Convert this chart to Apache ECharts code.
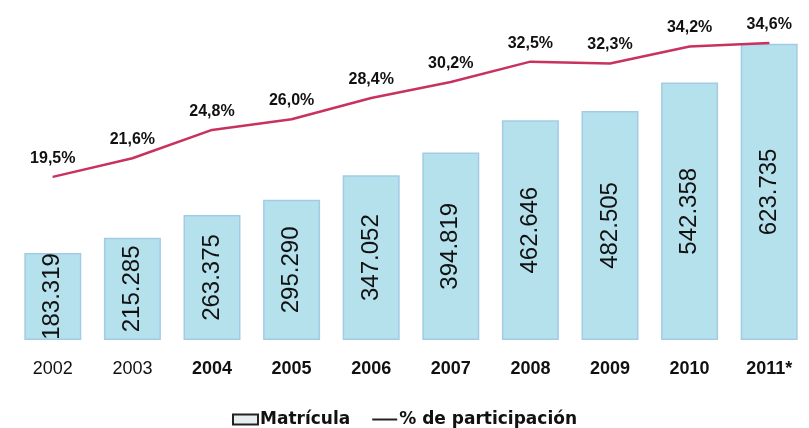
<!DOCTYPE html>
<html>
    <head>
        <meta charset="utf-8">
        <title>Matrícula</title>
        <style>
            body{
                margin:0;
                background-color:#FFFFFF;
            }
            #main{
                width:809px;
                height:428px;
            }
        </style>
    </head>
    <body>
        <div id="main"></div>

        <script src="https://cdn.jsdelivr.net/npm/echarts@6/dist/echarts.min.js"></script>

        <script>
            var years = ["2002","2003","2004","2005","2006","2007","2008","2009","2010","2011*"];
            var boldYears = [false,false,true,true,true,true,true,true,true,true];
            var matricula = [183319,215285,263375,295290,347052,394819,462646,482505,542358,623735];
            var participacion = [19.5,21.6,24.8,26.0,28.4,30.2,32.5,32.3,34.2,34.6];

            function miles(v){
                return String(v).replace(/\B(?=(\d{3})+(?!\d))/g, ".");
            }

            var myChart = echarts.init(document.getElementById('main'));

            var option = {
                animation: false,
                textStyle: { fontFamily: '"Liberation Sans", Arial, sans-serif' },
                legend: {
                    bottom: 0,
                    padding: 0,
                    left: 'center',
                    itemGap: 22,
                    itemWidth: 25,
                    itemHeight: 10,
                    textStyle: { fontSize: 17, fontWeight: 'bold', color: '#111',
                                 fontFamily: '"DejaVu Sans", sans-serif', padding: [0,0,0,-3] },
                    data: [
                        { name: 'Matrícula', icon: 'rect',
                          itemStyle: { color: '#e8eef0', borderColor: '#222', borderWidth: 2 } },
                        { name: '% de participación', icon: 'path://M0,4 L25,4 L25,6 L0,6 Z',
                          itemStyle: { color: '#222' } }
                    ]
                },
                grid: { left: 13, top: 20, width: 802, height: 320 },
                xAxis: {
                    type: 'category',
                    data: years,
                    axisLine: { show: false },
                    axisTick: { show: false },
                    axisLabel: {
                        interval: 0,
                        margin: 20,
                        fontSize: 18,
                        color: '#111',
                        formatter: function(v, i){
                            return boldYears[i] ? '{b|' + v + '}' : '{n|' + v + '}';
                        },
                        rich: {
                            b: { fontSize: 18, fontWeight: 'bold', color: '#111' },
                            n: { fontSize: 18, fontWeight: 'normal', color: '#111' }
                        }
                    }
                },
                yAxis: [
                    { type: 'value', min: 0, max: 674000, show: false },
                    { type: 'value', min: 1.1, max: 37.2, show: false }
                ],
                series: [
                    {
                        name: 'Matrícula',
                        type: 'bar',
                        barWidth: 57,
                        data: matricula,
                        itemStyle: { color: '#b5e1ed', borderColor: '#a3cbe6', borderWidth: 1.5 },
                        label: {
                            show: true,
                            position: 'inside',
                            rotate: 90,
                            fontSize: 24,
                            color: '#111',
                            formatter: function(p){ return miles(p.value); }
                        }
                    },
                    {
                        name: '% de participación',
                        type: 'line',
                        yAxisIndex: 1,
                        data: participacion,
                        symbol: 'circle',
                        symbolSize: 1,
                        showSymbol: true,
                        lineStyle: { color: '#c8325f', width: 2.5 },
                        itemStyle: { color: '#c8325f' },
                        label: {
                            show: true,
                            position: 'top',
                            distance: 10,
                            fontSize: 16,
                            fontWeight: 'bold',
                            color: '#111',
                            formatter: function(p){ return p.value.toFixed(1).replace('.', ',') + '%'; }
                        }
                    }
                ]
            };

            myChart.setOption(option);
        </script>
    </body>
</html>
